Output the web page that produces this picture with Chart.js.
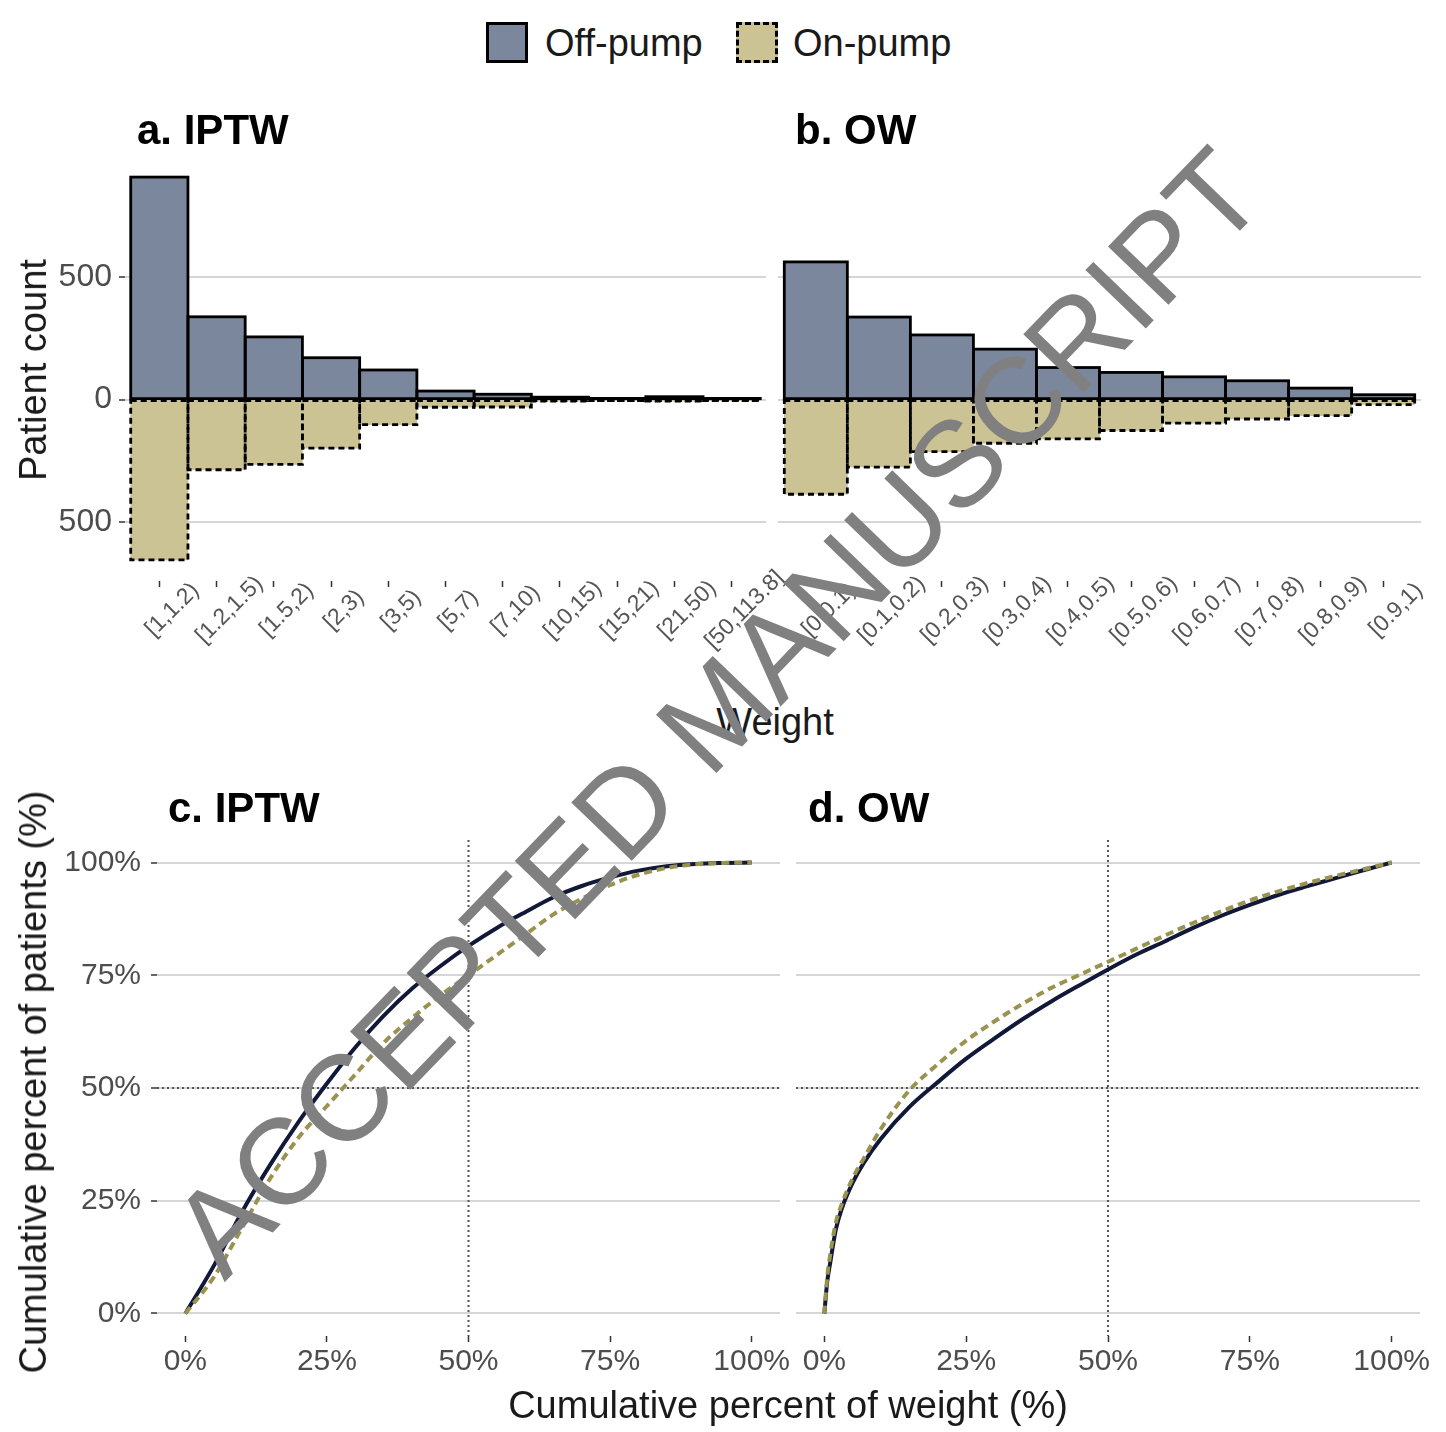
<!DOCTYPE html>
<html>
<head>
<meta charset="utf-8">
<script src="https://cdn.jsdelivr.net/npm/chart.js@4"></script>
<style>
  body { margin: 0; background: #fff; }
  #page { position: relative; width: 1446px; height: 1432px; overflow: hidden; font-family: "Liberation Sans", Arial, sans-serif; }
  canvas { position: absolute; }
  .txt { position: absolute; white-space: nowrap; line-height: 1; }
  .key { position: absolute; box-sizing: border-box; width: 42px; height: 41px; top: 22px; }
</style>
</head>
<body>
<div id="page">
  <div class="key" style="left:486px;background:#7b879c;border:3px solid #000"></div>
  <div class="key" style="left:736px;background:#cbc393;border:3px dashed #000"></div>
  <canvas id="histIPTW" width="810" height="543" style="left:0;top:117px"></canvas>
  <canvas id="histOW" width="746" height="543" style="left:700px;top:117px"></canvas>
  <canvas id="cumIPTW" width="800" height="610" style="left:0;top:800px"></canvas>
  <canvas id="cumOW" width="666" height="610" style="left:780px;top:800px"></canvas>
</div>
<script>
// weight bins and patient counts (on-pump drawn downwards)
var labelsIPTW = ["[1,1.2)", "[1.2,1.5)", "[1.5,2)", "[2,3)", "[3,5)", "[5,7)", "[7,10)", "[10,15)", "[15,21)", "[21,50)", "[50,113.8]"];
var offIPTW = [908, 338, 256, 171, 121, 35, 22, 10, 5, 12, 5];
var onIPTW = [654, 286, 264, 198, 102, 31, 30, 6, 4, 6, 3];

var labelsOW = ["[0,0.1)", "[0.1,0.2)", "[0.2,0.3)", "[0.3,0.4)", "[0.4,0.5)", "[0.5,0.6)", "[0.6,0.7)", "[0.7,0.8)", "[0.8,0.9)", "[0.9,1)"];
var offOW = [562, 337, 264, 206, 131, 111, 93, 77, 47, 20];
var onOW = [386, 275, 212, 178, 160, 126, 96, 79, 65, 20];

var countTicks = [-500, 0, 500];
var pctTicks = [0, 25, 50, 75, 100];

// cumulative percent of weight (x) vs cumulative percent of patients (y)
var weightPctIPTW = [0, 5, 10, 15, 20, 25, 30, 35, 40, 45, 50, 55, 60, 65, 70, 75, 80, 85, 90, 95, 100];
var offCumIPTW = [0, 10.5, 22.5, 33, 42.5, 51, 59, 66, 72, 77, 81.5, 85.5, 89, 92.3, 94.8, 96.7, 98.2, 99.2, 99.7, 99.9, 100];
var onCumIPTW = [0, 8, 19, 30, 39, 46, 53, 60, 65.5, 70.5, 75, 79.5, 84, 88.5, 92, 95, 97.3, 98.8, 99.6, 99.9, 100];

var weightPctOW = [0, 0.5, 1, 2, 3, 5, 7, 10, 15, 20, 25, 30, 35, 40, 45, 50, 55, 60, 65, 70, 75, 80, 85, 90, 95, 100];
var offCumOW = [0, 7, 11, 18.5, 23, 29, 33.5, 38.8, 45.8, 51.3, 56.5, 61, 65.3, 69.2, 72.8, 76.3, 79.6, 82.5, 85.5, 88.2, 90.6, 92.8, 94.7, 96.5, 98.3, 100];
var onCumOW = [0, 8, 12.8, 20, 24, 30, 34.5, 41, 49.5, 55.3, 60.5, 64.8, 68.7, 72.2, 75.1, 78, 80.9, 83.8, 86.6, 89.2, 91.6, 93.6, 95.4, 97, 98.5, 100];

var offFill = '#7b879c', onFill = '#cbc393';
var offLine = '#111838', onLine = '#9a9350';
var gridGrey = '#d6d6d6';

Chart.defaults.font.family = '"Liberation Sans", Arial, sans-serif';
Chart.defaults.color = '#4d4d4d';

var page = document.getElementById('page');

function addText(str, x, y, css, align, rot) {
  var d = document.createElement('div');
  d.className = 'txt';
  d.textContent = str;
  d.style.cssText = 'left:' + x + 'px;top:' + y + 'px;' + css;
  var tx = align === 'left' ? '0' : '-50%';
  d.style.transform = 'translate(' + tx + ',-50%)' + (rot ? ' rotate(' + rot + 'deg)' : '');
  page.appendChild(d);
}

function pointsOf(xs, ys) {
  return xs.map(function (x, i) { return {x: x, y: ys[i]}; });
}

// ggplot style outlines: solid for off-pump, dashed for on-pump
var barOutlines = {
  id: 'barOutlines',
  afterDatasetsDraw: function (chart) {
    var ctx = chart.ctx;
    [1, 0].forEach(function (di) {
      ctx.save();
      ctx.strokeStyle = '#000';
      ctx.lineWidth = 2.8;
      ctx.setLineDash(di === 1 ? [6, 4] : []);
      chart.getDatasetMeta(di).data.forEach(function (bar) {
        var p = bar.getProps(['x', 'y', 'base', 'width'], true);
        ctx.strokeRect(p.x - p.width / 2, Math.min(p.y, p.base), p.width, Math.abs(p.base - p.y));
      });
      ctx.restore();
    });
  }
};

function rotatedLabels(labels) {
  return {
    id: 'rotatedLabels',
    afterDraw: function (chart) {
      var ctx = chart.ctx, s = chart.scales.x;
      ctx.save();
      ctx.font = '23px "Liberation Sans", Arial, sans-serif';
      ctx.fillStyle = '#555';
      ctx.textAlign = 'center';
      ctx.textBaseline = 'middle';
      s.ticks.forEach(function (t, i) {
        ctx.save();
        ctx.translate(s.getPixelForValue(t.value) + 13, s.top + 29);
        ctx.rotate(-Math.PI / 4);
        ctx.fillText(labels[i], 0, 0);
        ctx.restore();
      });
      ctx.restore();
    }
  };
}

var halfLines = {
  id: 'halfLines',
  beforeDatasetsDraw: function (chart) {
    var ctx = chart.ctx, a = chart.chartArea;
    var x = chart.scales.x.getPixelForValue(50), y = chart.scales.y.getPixelForValue(50);
    ctx.save();
    ctx.strokeStyle = '#555';
    ctx.lineWidth = 2;
    ctx.setLineDash([2, 3]);
    ctx.beginPath();
    ctx.moveTo(x, a.top); ctx.lineTo(x, a.bottom);
    ctx.moveTo(a.left, y); ctx.lineTo(a.right, y);
    ctx.stroke();
    ctx.restore();
  }
};

function histogram(id, labels, off, on, yWidth, showY, pad) {
  var ctx = document.getElementById(id).getContext('2d');
  var xs = labels.map(function (l, i) { return i + 1; });
  return new Chart(ctx, {
    type: 'bar',
    data: {
      datasets: [{
        label: 'Off-pump',
        data: pointsOf(xs, off),
        backgroundColor: offFill,
        borderWidth: 0,
        grouped: false,
        barPercentage: 1,
        categoryPercentage: 1
      }, {
        label: 'On-pump',
        data: pointsOf(xs, on.map(function (v) { return -v; })),
        backgroundColor: onFill,
        borderWidth: 0,
        grouped: false,
        barPercentage: 1,
        categoryPercentage: 1
      }]
    },
    options: {
      responsive: false,
      animation: false,
      layout: {padding: pad},
      plugins: {legend: {display: false}, tooltip: {enabled: false}},
      scales: {
        x: {
          type: 'linear',
          offset: false,
          min: 0.4,
          max: labels.length + 0.6,
          afterBuildTicks: function (s) { s.ticks = xs.map(function (v) { return {value: v}; }); },
          afterFit: function (s) { s.height = 8; },
          ticks: {display: false},
          grid: {offset: false, drawOnChartArea: false, tickLength: 6, tickColor: '#333', tickWidth: 1.5},
          border: {display: false}
        },
        y: {
          min: -740,
          max: 990,
          afterBuildTicks: function (s) { s.ticks = countTicks.map(function (v) { return {value: v}; }); },
          afterFit: function (s) { s.width = yWidth; },
          ticks: {display: showY, font: {size: 32}, padding: 7, callback: function (v) { return String(Math.abs(v)); }},
          grid: {color: gridGrey, lineWidth: 2, drawTicks: showY, tickLength: 6, tickColor: '#333', tickWidth: 1.5},
          border: {display: false}
        }
      }
    },
    plugins: [barOutlines, rotatedLabels(labels)]
  });
}

function cumulative(id, xs, off, on, yWidth, showY, pad) {
  var ctx = document.getElementById(id).getContext('2d');
  return new Chart(ctx, {
    type: 'line',
    data: {
      datasets: [{
        label: 'Off-pump',
        data: pointsOf(xs, off),
        borderColor: offLine,
        borderWidth: 4,
        pointRadius: 0,
        cubicInterpolationMode: 'monotone',
        order: 2
      }, {
        label: 'On-pump',
        data: pointsOf(xs, on),
        borderColor: onLine,
        borderWidth: 4,
        borderDash: [8, 5],
        pointRadius: 0,
        cubicInterpolationMode: 'monotone',
        order: 1
      }]
    },
    options: {
      responsive: false,
      animation: false,
      layout: {padding: pad},
      plugins: {legend: {display: false}, tooltip: {enabled: false}},
      scales: {
        x: {
          type: 'linear',
          min: -5,
          max: 105,
          afterBuildTicks: function (s) { s.ticks = pctTicks.map(function (v) { return {value: v}; }); },
          afterFit: function (s) { s.height = 50; },
          ticks: {font: {size: 30}, padding: 2, maxRotation: 0, autoSkip: false, callback: function (v) { return v + '%'; }},
          grid: {drawOnChartArea: false, tickLength: 6, tickColor: '#333', tickWidth: 1.5},
          border: {display: false}
        },
        y: {
          min: -5,
          max: 105,
          afterBuildTicks: function (s) { s.ticks = pctTicks.map(function (v) { return {value: v}; }); },
          afterFit: function (s) { s.width = yWidth; },
          ticks: {display: showY, font: {size: 30}, padding: 10, callback: function (v) { return v + '%'; }},
          grid: {color: gridGrey, lineWidth: 2, drawTicks: showY, tickLength: 6, tickColor: '#333', tickWidth: 1.5},
          border: {display: false}
        }
      }
    },
    plugins: [halfLines]
  });
}

histogram('histIPTW', labelsIPTW, offIPTW, onIPTW, 125, true, {left: 0, top: 40, right: 44, bottom: 71});
histogram('histOW', labelsOW, offOW, onOW, 78, false, {left: 0, top: 40, right: 25, bottom: 71});
cumulative('cumIPTW', weightPctIPTW, offCumIPTW, onCumIPTW, 157, true, {left: 0, top: 40, right: 20, bottom: 24});
cumulative('cumOW', weightPctOW, offCumOW, onCumOW, 16, false, {left: 0, top: 40, right: 26, bottom: 24});

// legend, titles, axis titles
addText('Off-pump', 545, 43, 'font-size:38px;color:#1a1a1a;', 'left');
addText('On-pump', 793, 43, 'font-size:38px;color:#1a1a1a;', 'left');
addText('a. IPTW', 137, 130, 'font-size:42px;font-weight:bold;color:#000;', 'left');
addText('b. OW', 795, 130, 'font-size:42px;font-weight:bold;color:#000;', 'left');
addText('c. IPTW', 168, 808, 'font-size:42px;font-weight:bold;color:#000;', 'left');
addText('d. OW', 808, 808, 'font-size:42px;font-weight:bold;color:#000;', 'left');
addText('Patient count', 33, 370, 'font-size:38px;color:#1a1a1a;', 'center', -90);
addText('Weight', 775, 722, 'font-size:38px;color:#1a1a1a;', 'center');
addText('Cumulative percent of patients (%)', 33, 1082, 'font-size:38px;color:#1a1a1a;', 'center', -90);
addText('Cumulative percent of weight (%)', 788, 1405, 'font-size:38px;color:#1a1a1a;', 'center');
addText('ACCEPTED MANUSCRIPT', 717, 712, 'font-size:122px;color:#808080;z-index:5;', 'center', -46);
</script>
</body>
</html>
